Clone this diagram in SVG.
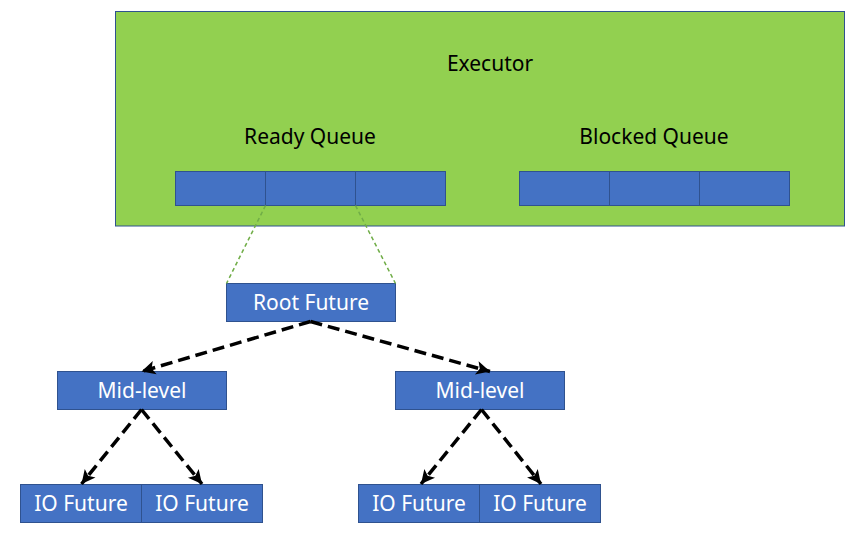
<svg xmlns="http://www.w3.org/2000/svg" width="855" height="535" viewBox="0 0 855 535">
<style>
.box{fill:#4472C4;stroke:#2F528F;stroke-width:1}
.wt{fill:#FFFFFF;font-family:"Noto Sans","Liberation Sans",sans-serif;font-size:21px;text-anchor:middle}
.bt{fill:#000000;font-family:"Noto Sans","Liberation Sans",sans-serif;font-size:21px;text-anchor:middle}
.dash{fill:none;stroke:#000000;stroke-width:3.5;stroke-dasharray:12,6}
.gdash{fill:none;stroke:#70AD47;stroke-width:1.5;stroke-dasharray:4,3}
</style>
<defs>
<marker id="arr" markerUnits="userSpaceOnUse" markerWidth="18" markerHeight="18" viewBox="-15 -8 17 16" refX="0" refY="0" orient="auto">
<path d="M0,0 L-13,-6.5 L-10,0 L-13,6.5 Z" fill="#000000"/>
</marker>
</defs>
<g id="executor">
<rect x="115.5" y="11.5" width="729" height="214.5" fill="#92D050" stroke="#2F528F" stroke-width="1"/>
<text class="bt" x="490" y="71">Executor</text>
</g>
<g id="ready-queue">
<text class="bt" x="310" y="144">Ready Queue</text>
<rect class="box" x="175.5" y="171.5" width="90" height="34"/>
<rect class="box" x="265.5" y="171.5" width="90" height="34"/>
<rect class="box" x="355.5" y="171.5" width="90" height="34"/>
</g>
<g id="blocked-queue">
<text class="bt" x="654" y="144">Blocked Queue</text>
<rect class="box" x="519.5" y="171.5" width="90" height="34"/>
<rect class="box" x="609.5" y="171.5" width="90" height="34"/>
<rect class="box" x="699.5" y="171.5" width="90" height="34"/>
</g>
<g id="root-future">
<rect class="box" x="226.5" y="283.5" width="169" height="38"/>
<text class="wt" x="311" y="310">Root Future</text>
</g>
<g id="mid-left">
<rect class="box" x="57.5" y="371.5" width="169" height="38"/>
<text class="wt" x="142" y="398">Mid-level</text>
</g>
<g id="mid-right">
<rect class="box" x="395.5" y="371.5" width="169" height="38"/>
<text class="wt" x="480" y="398">Mid-level</text>
</g>
<g id="io1">
<rect class="box" x="20.5" y="484.5" width="121" height="38"/>
<text class="wt" x="81" y="511">IO Future</text>
</g>
<g id="io2">
<rect class="box" x="141.5" y="484.5" width="121" height="38"/>
<text class="wt" x="202" y="511">IO Future</text>
</g>
<g id="io3">
<rect class="box" x="358.5" y="484.5" width="121" height="38"/>
<text class="wt" x="419" y="511">IO Future</text>
</g>
<g id="io4">
<rect class="box" x="479.5" y="484.5" width="121" height="38"/>
<text class="wt" x="540" y="511">IO Future</text>
</g>
<g id="connectors">
<line class="gdash" x1="265.5" y1="205.5" x2="226.5" y2="283.5"/>
<line class="gdash" x1="355.5" y1="205.5" x2="395.5" y2="283.5"/>
<line class="dash" x1="310.5" y1="321.5" x2="141.5" y2="371.5" marker-end="url(#arr)"/>
<line class="dash" x1="310.5" y1="321.5" x2="490" y2="371.5" marker-end="url(#arr)"/>
<line class="dash" x1="141.5" y1="409.5" x2="81.5" y2="484" marker-end="url(#arr)"/>
<line class="dash" x1="141.5" y1="409.5" x2="202" y2="484" marker-end="url(#arr)"/>
<line class="dash" x1="481.5" y1="409.5" x2="421" y2="484" marker-end="url(#arr)"/>
<line class="dash" x1="481.5" y1="409.5" x2="541" y2="484" marker-end="url(#arr)"/>
</g>
</svg>
